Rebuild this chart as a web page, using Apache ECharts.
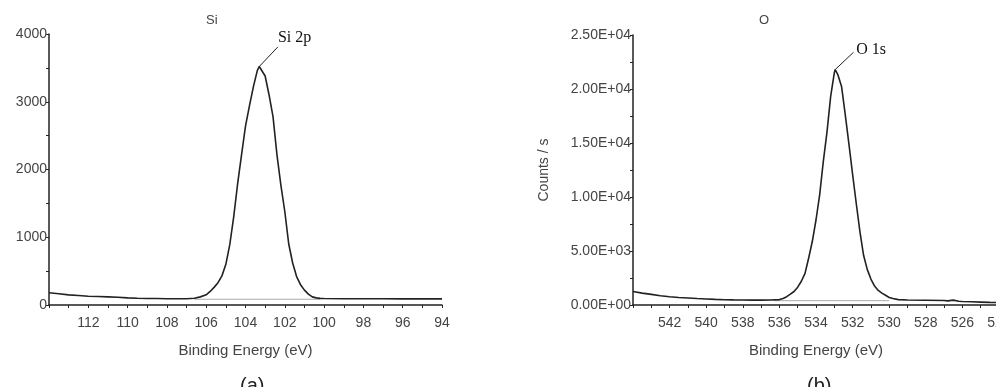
<!DOCTYPE html>
<html>
<head>
<meta charset="UTF-8">
<title>XPS Si 2p / O 1s</title>
<script src="https://cdn.jsdelivr.net/npm/echarts@6/dist/echarts.min.js"></script>
<style>
  html, body { margin: 0; padding: 0; background: #fff; }
  #main { width: 996px; height: 387px; }
</style>
</head>
<body>
<div id="main"></div>
<script>
// Si scan: [binding energy (eV), counts]
var siSpectrum = [
  [114, 180], [113.5, 165], [113, 150], [112.5, 140], [112, 130], [111.5, 125],
  [111, 120], [110.5, 115], [110, 105], [109.5, 100], [109, 97], [108.5, 95],
  [108, 93], [107.5, 92], [107, 92], [106.6, 100], [106.3, 120], [106.0, 150],
  [105.8, 200], [105.6, 260], [105.4, 330], [105.2, 430], [105.0, 600],
  [104.8, 890], [104.6, 1300], [104.4, 1790], [104.2, 2220], [104.0, 2640],
  [103.8, 2940], [103.6, 3220], [103.4, 3460], [103.3, 3520], [103.2, 3500],
  [103.0, 3380], [102.8, 3100], [102.6, 2780], [102.4, 2220], [102.2, 1770],
  [102.0, 1380], [101.8, 900], [101.6, 620], [101.4, 420], [101.2, 300],
  [101.0, 220], [100.8, 160], [100.6, 120], [100.4, 105], [100.2, 98],
  [100, 95], [99, 92], [98, 92], [97, 92], [96, 90], [95, 90], [94, 90]
];
var siBackground = [[106.6, 85], [100.2, 85]];

// O scan: [binding energy (eV), counts / s]
var oSpectrum = [
  [544, 1250], [543.5, 1100], [543, 980], [542.5, 860], [542, 760], [541.5, 700],
  [541, 650], [540.5, 600], [540, 560], [539.5, 520], [539, 490], [538.5, 470],
  [538, 460], [537.5, 450], [537, 450], [536.5, 460], [536, 500], [535.8, 600],
  [535.6, 770], [535.4, 1000], [535.2, 1250], [535.0, 1650], [534.8, 2200],
  [534.6, 2930], [534.4, 4350], [534.2, 5900], [534.0, 7870], [533.8, 10200],
  [533.6, 13300], [533.4, 16000], [533.2, 19300], [533.0, 21500], [532.95, 21800],
  [532.8, 21300], [532.6, 20200], [532.4, 17600], [532.2, 14900], [532.0, 12100],
  [531.8, 9400], [531.6, 6800], [531.4, 4600], [531.2, 3300], [531.0, 2400],
  [530.8, 1750], [530.6, 1350], [530.4, 1100], [530.2, 900], [530.0, 700],
  [529.8, 600], [529.5, 500], [529, 460], [528, 440], [527, 420], [526.8, 380],
  [526.5, 450], [526.2, 350], [526, 330], [525.5, 300], [525, 270], [524.5, 240],
  [524, 220]
];
var oBackground = [[536.3, 400], [530.0, 400]];

var panelTitles = ['Si', 'O'];
var peakNames = ['Si 2p', 'O 1s'];
var panelLetters = ['(a)', '(b)'];
var siYTicks = ['0', '1000', '2000', '3000', '4000'];
var oYTicks = ['0.00E+00', '5.00E+03', '1.00E+04', '1.50E+04', '2.00E+04', '2.50E+04'];

function peakOf(arr) {
  var best = arr[0];
  for (var i = 1; i < arr.length; i++) {
    if (arr[i][1] > best[1]) best = arr[i];
  }
  return best;
}

var ink = '#222';
var txt = '#444';
var sans = 'Liberation Sans';

function xAxisFor(idx, lo, hi) {
  return {
    type: 'value', gridIndex: idx, min: lo, max: hi, interval: 2, inverse: true,
    name: 'Binding Energy (eV)', nameLocation: 'middle', nameGap: 38,
    nameTextStyle: { color: txt, fontSize: 15, fontFamily: sans },
    axisLine: { show: true, lineStyle: { color: ink, width: 1.5 } },
    axisTick: { show: true, length: 3, lineStyle: { color: ink } },
    minorTick: { show: true, splitNumber: 2, length: 3, lineStyle: { color: ink } },
    axisLabel: { color: txt, fontSize: 14, fontFamily: sans, margin: 11, showMaxLabel: false },
    splitLine: { show: false }
  };
}

function yAxisFor(idx, max, step, labels) {
  return {
    type: 'value', gridIndex: idx, min: 0, max: max, interval: step,
    axisLine: { show: true, lineStyle: { color: ink, width: 1.5 } },
    axisTick: { show: true, length: 3, lineStyle: { color: ink } },
    minorTick: { show: true, splitNumber: 2, length: 3, lineStyle: { color: ink } },
    axisLabel: {
      color: txt, fontSize: 14, fontFamily: sans, margin: 2,
      formatter: function (v, i) { return labels[i]; }
    },
    splitLine: { show: false }
  };
}

// thin leader from the peak to a spot, name printed right of that spot
function leader(peak, end, textAt, name) {
  return {
    markLine: {
      symbol: ['none', 'none'], silent: true, animation: false,
      lineStyle: { color: ink, width: 1, type: 'solid' },
      label: { show: false },
      data: [[{ coord: peak }, { coord: end }]]
    },
    markPoint: {
      symbol: 'circle', symbolSize: 0, silent: true, animation: false,
      label: {
        show: true, position: 'right', distance: 0, formatter: name,
        color: '#111', fontSize: 16, fontFamily: 'Liberation Serif'
      },
      data: [{ coord: textAt }]
    }
  };
}

var siPeak = peakOf(siSpectrum);
var oPeak = peakOf(oSpectrum);

var titleStyle = { color: txt, fontSize: 13, fontWeight: 'normal', fontFamily: sans };

var option = {
  backgroundColor: '#fff',
  animation: false,
  title: [
    { text: panelTitles[0], left: 201, top: 9, textStyle: titleStyle },
    { text: panelTitles[1], left: 754, top: 9, textStyle: titleStyle }
  ],
  grid: [
    { left: 49, top: 34, width: 393, height: 271, outerBoundsMode: 'none' },
    { left: 633, top: 35, width: 366, height: 270, outerBoundsMode: 'none' }
  ],
  xAxis: [xAxisFor(0, 94, 114), xAxisFor(1, 524, 544)],
  yAxis: [
    yAxisFor(0, 4000, 1000, siYTicks),
    Object.assign(yAxisFor(1, 25000, 5000, oYTicks), {
      name: 'Counts / s', nameLocation: 'middle', nameGap: 82,
      nameTextStyle: { color: txt, fontSize: 14, fontFamily: sans }
    })
  ],
  series: [
    {
      type: 'line', xAxisIndex: 0, yAxisIndex: 0, data: siBackground,
      symbol: 'none', lineStyle: { color: '#aaa', width: 1 }, z: 1
    },
    Object.assign({
      type: 'line', xAxisIndex: 0, yAxisIndex: 0, data: siSpectrum,
      symbol: 'none', lineStyle: { color: ink, width: 1.6 }
    }, leader(siPeak, [102.35, 3810], [102.35, 3940], peakNames[0])),
    {
      type: 'line', xAxisIndex: 1, yAxisIndex: 1, data: oBackground,
      symbol: 'none', lineStyle: { color: '#aaa', width: 1 }, z: 1
    },
    Object.assign({
      type: 'line', xAxisIndex: 1, yAxisIndex: 1, data: oSpectrum,
      symbol: 'none', lineStyle: { color: ink, width: 1.6 }
    }, leader(oPeak, [531.95, 23400], [531.8, 23600], peakNames[1]))
  ],
  graphic: [
    { type: 'text', left: 240, top: 376, style: { text: panelLetters[0], fontSize: 20, fontFamily: sans, fill: '#222' } },
    { type: 'text', left: 807, top: 376, style: { text: panelLetters[1], fontSize: 20, fontFamily: sans, fill: '#222' } }
  ]
};

var chart = echarts.init(document.getElementById('main'));
chart.setOption(option);
</script>
</body>
</html>
